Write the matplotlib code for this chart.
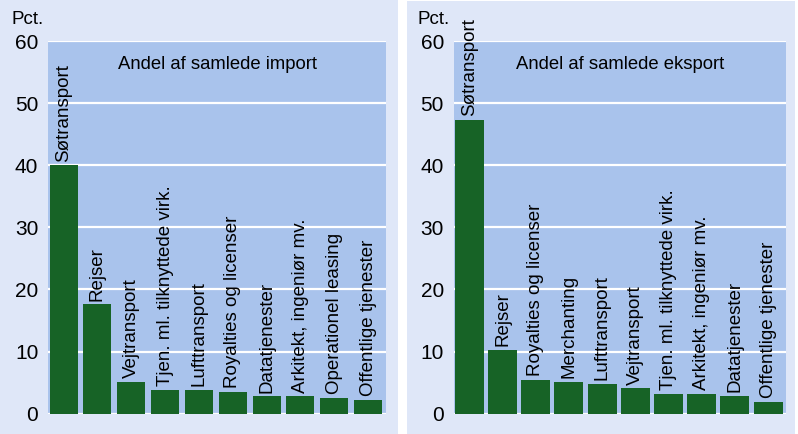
import matplotlib.pyplot as plt
from matplotlib.patches import Rectangle

# Import shares (pct.)
imp_labels = ["Søtransport", "Rejser", "Vejtransport", "Tjen. ml. tilknyttede virk.",
              "Lufttransport", "Royalties og licenser", "Datatjenester",
              "Arkitekt, ingeniør mv.", "Operationel leasing", "Offentlige tjenester"]
imp_values = [40.0, 17.6, 5.1, 3.8, 3.8, 3.5, 2.8, 2.8, 2.5, 2.2]

# Export shares (pct.)
exp_labels = ["Søtransport", "Rejser", "Royalties og licenser", "Merchanting",
              "Lufttransport", "Vejtransport", "Tjen. ml. tilknyttede virk.",
              "Arkitekt, ingeniør mv.", "Datatjenester", "Offentlige tjenester"]
exp_values = [47.3, 10.3, 5.4, 5.1, 4.8, 4.1, 3.2, 3.2, 2.85, 1.9]

yticks = [0, 10, 20, 30, 40, 50, 60]

panel_bg = "#dfe7f8"
plot_bg = "#a9c3ec"
bar_col = "#176326"
W, H = 798, 434

plt.rcParams['font.family'] = ['Liberation Sans Narrow', 'Liberation Sans', 'DejaVu Sans']

fig = plt.figure(figsize=(W / 100, H / 100), dpi=100)
fig.patch.set_facecolor("white")

# Panel backgrounds
fig.patches.append(Rectangle((0, 0), 398 / W, 1, transform=fig.transFigure,
                             facecolor=panel_bg, edgecolor="none", zorder=-5))
fig.patches.append(Rectangle((407 / W, 0), 388 / W, 433 / H, transform=fig.transFigure,
                             facecolor=panel_bg, edgecolor="none", zorder=-5))


def draw_panel(x0, x1, labels, values, title, width, xlim):
    ax = fig.add_axes([x0 / W, 1 - 413.7 / H, (x1 - x0) / W, (413.7 - 41) / H])
    ax.set_zorder(2)
    ax.set_facecolor(plot_bg)
    ax.set_axisbelow(True)
    ax.grid(axis="y", color="white", linewidth=1.6)
    ax.bar(range(len(values)), values, width=width, color=bar_col, zorder=3)
    for i, (lab, v) in enumerate(zip(labels, values)):
        ax.text(i, v + 0.6, lab, rotation=90, ha="center", va="bottom",
                fontsize=13.5, zorder=4)
    ax.set_ylim(0, 60)
    ax.set_xlim(*xlim)
    ax.set_yticks(yticks)
    ax.set_yticklabels([str(t) for t in yticks], fontsize=15)
    ax.set_xticks([])
    ax.tick_params(axis="y", length=0, pad=7)
    for s in ax.spines.values():
        s.set_visible(False)
    ax.text(0.5, 0.936, title, transform=ax.transAxes, ha="center", va="center",
            fontsize=13.3)
    ax.text(-0.013, 1.059, "Pct.", transform=ax.transAxes, ha="right", va="center",
            fontsize=13.5)
    return ax


draw_panel(48, 386, imp_labels, imp_values, "Andel af samlede import", 0.83, (-0.46, 9.53))
draw_panel(453.7, 785.7, exp_labels, exp_values, "Andel af samlede eksport", 0.87, (-0.47, 9.53))

fig.savefig("out.png", dpi=100, facecolor=fig.get_facecolor())
